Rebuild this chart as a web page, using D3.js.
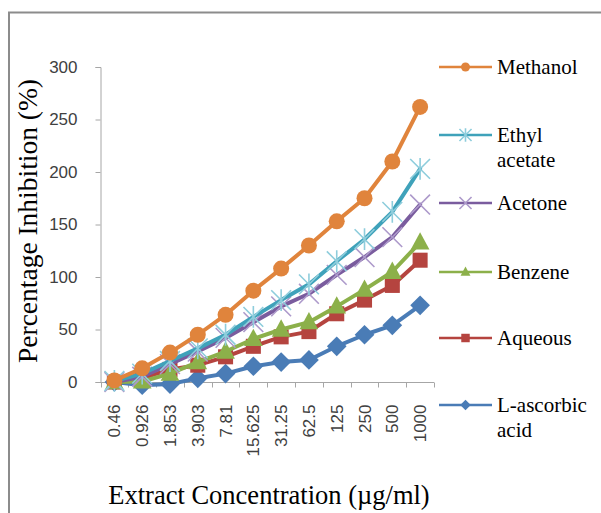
<!DOCTYPE html>
<html><head><meta charset="utf-8">
<script src="https://cdn.jsdelivr.net/npm/d3@7"></script>
<style>body{margin:0;background:#fff}svg{display:block}</style>
</head><body>
<svg id="c" width="601" height="513"></svg>
<script>
const categories = ["0.46","0.926","1.853","3.903","7.81","15.625","31.25","62.5","125","250","500","1000"];
const yTicks = [0,50,100,150,200,250,300];
const seriesNames = ["Methanol","Ethyl acetate","Acetone","Benzene","Aqueous","L-ascorbic acid"];
const methanol   = [1.5,13,28,45,64,87,108,130,153,175,210,262];
const ethylAcetate = [1,8,20,32,45,62,78,93,115,136,162,203];
const acetone    = [0,5,17,29,42,57,72,84,102,119,138,169];
const benzene    = [0,0.5,8,19,29,41,50,57,72,88,105,133];
const aqueous    = [0,3.5,12,16,24,34,43,48,65,78,92,116];
const ascorbic   = [0,-3,-2,3.5,8,15,19,21,34,45,54,73];
const seriesValues = [methanol, ethylAcetate, acetone, benzene, aqueous, ascorbic];

const colors = ["#E0843C","#3FA2BA","#7A5C9E","#8CB04A","#B5443F","#4A7CB6"];
const markerColors = ["#E0843C","#8ECDDC","#AD9ACB","#8CB04A","#B5443F","#4A7CB6"];
const markers = ["circle","asterisk","x","triangle","square","diamond"];

const svg = d3.select("#c");
// outer frame
svg.append("rect").attr("x",9).attr("y",12.5).attr("width",640).attr("height",560)
  .attr("fill","none").attr("stroke","#8c8c8c").attr("stroke-width",2);

const x = d3.scaleBand().domain(categories).range([100.5,434]);
const y = d3.scaleLinear().domain([0,300]).range([382,67]);

const axisColor = "#a6a6a6";
// y axis
const gy = svg.append("g").attr("transform","translate(100.5,0)")
  .call(d3.axisLeft(y).tickValues(yTicks).tickSize(5).tickPadding(18));
gy.selectAll("path,line").attr("stroke",axisColor);
gy.selectAll("text").attr("font-family","Liberation Sans, Arial").attr("font-size",17).attr("fill","#404040");

// x axis
const gx = svg.append("g").attr("transform","translate(0,382.5)");
gx.append("line").attr("x1",100.5).attr("x2",434).attr("stroke",axisColor);
const bounds = categories.map(c=>x(c)).concat([x.range()[1]]);
gx.selectAll("line.t").data(bounds).join("line").attr("class","t")
  .attr("x1",d=>Math.round(d)+0.5).attr("x2",d=>Math.round(d)+0.5).attr("y1",0).attr("y2",5).attr("stroke",axisColor);
gx.selectAll("text").data(categories).join("text")
  .attr("transform",d=>`translate(${x(d)+x.bandwidth()/2+6},22) rotate(-90)`)
  .attr("text-anchor","end")
  .attr("font-family","Liberation Sans, Arial").attr("font-size",17).attr("fill","#404040")
  .text(d=>d);

// titles
svg.append("text").attr("transform","translate(37,221) rotate(-90)").attr("text-anchor","middle")
  .attr("font-family","Liberation Serif, Times New Roman").attr("font-size",27.5).attr("fill","#000")
  .text("Percentage Inhibition (%)");
svg.append("text").attr("x",269).attr("y",504).attr("text-anchor","middle")
  .attr("font-family","Liberation Serif, Times New Roman").attr("font-size",26.5).attr("fill","#000")
  .text("Extract Concentration (µg/ml)");

function drawMarker(g, type, cx, cy, color, s){
  if(type==="circle") g.append("circle").attr("cx",cx).attr("cy",cy).attr("r",s*0.5).attr("fill",color);
  else if(type==="square") g.append("rect").attr("x",cx-s*0.47).attr("y",cy-s*0.47).attr("width",s*0.94).attr("height",s*0.94).attr("fill",color);
  else if(type==="triangle") g.append("path").attr("d",`M${cx},${cy-s*0.6}L${cx+s*0.55},${cy+s*0.42}L${cx-s*0.55},${cy+s*0.42}Z`).attr("fill",color);
  else if(type==="diamond") g.append("path").attr("d",`M${cx},${cy-s*0.58}L${cx+s*0.58},${cy}L${cx},${cy+s*0.58}L${cx-s*0.58},${cy}Z`).attr("fill",color);
  else if(type==="x"){ const h=s*0.55;
    g.append("path").attr("d",`M${cx-h},${cy-h}L${cx+h},${cy+h}M${cx-h},${cy+h}L${cx+h},${cy-h}`).attr("stroke",color).attr("stroke-width",1.6).attr("fill","none"); }
  else if(type==="asterisk"){ const h=s*0.55;
    g.append("path").attr("d",`M${cx-h},${cy-h}L${cx+h},${cy+h}M${cx-h},${cy+h}L${cx+h},${cy-h}M${cx},${cy-h*1.1}L${cx},${cy+h*1.1}`).attr("stroke",color).attr("stroke-width",1.6).attr("fill","none"); }
}

const line = d3.line().x((d,i)=>x(categories[i])+x.bandwidth()/2).y(d=>y(d));
const plot = svg.append("g");
for(let k=seriesValues.length-1;k>=0;k--){
  const g = plot.append("g");
  g.append("path").attr("d",line(seriesValues[k])).attr("fill","none").attr("stroke",colors[k])
    .attr("stroke-width",4).attr("stroke-linejoin","round").attr("stroke-linecap","round");
  seriesValues[k].forEach((v,i)=>drawMarker(g,markers[k],x(categories[i])+x.bandwidth()/2,y(v),markerColors[k],
    markers[k]==="circle"?16:markers[k]==="square"?16:markers[k]==="triangle"?17:markers[k]==="diamond"?17:18));
}

// legend
const legY = [67,135,203,272,338,405];
const legLines = [["Methanol"],["Ethyl","acetate"],["Acetone"],["Benzene"],["Aqueous"],["L-ascorbic","acid"]];
seriesNames.forEach((n,k)=>{
  const g = svg.append("g");
  g.append("line").attr("x1",439).attr("x2",492).attr("y1",legY[k]).attr("y2",legY[k]).attr("stroke",colors[k]).attr("stroke-width",2.5);
  drawMarker(g,markers[k],465.5,legY[k],markerColors[k],markers[k]==="x"||markers[k]==="asterisk"?11:9);
  const t = g.append("text").attr("x",497).attr("y",legY[k]+7)
    .attr("font-family","Liberation Serif, Times New Roman").attr("font-size",21).attr("fill","#000");
  legLines[k].forEach((s,j)=>t.append("tspan").attr("x",497).attr("dy",j?25:0).text(s));
});
</script>
</body></html>
